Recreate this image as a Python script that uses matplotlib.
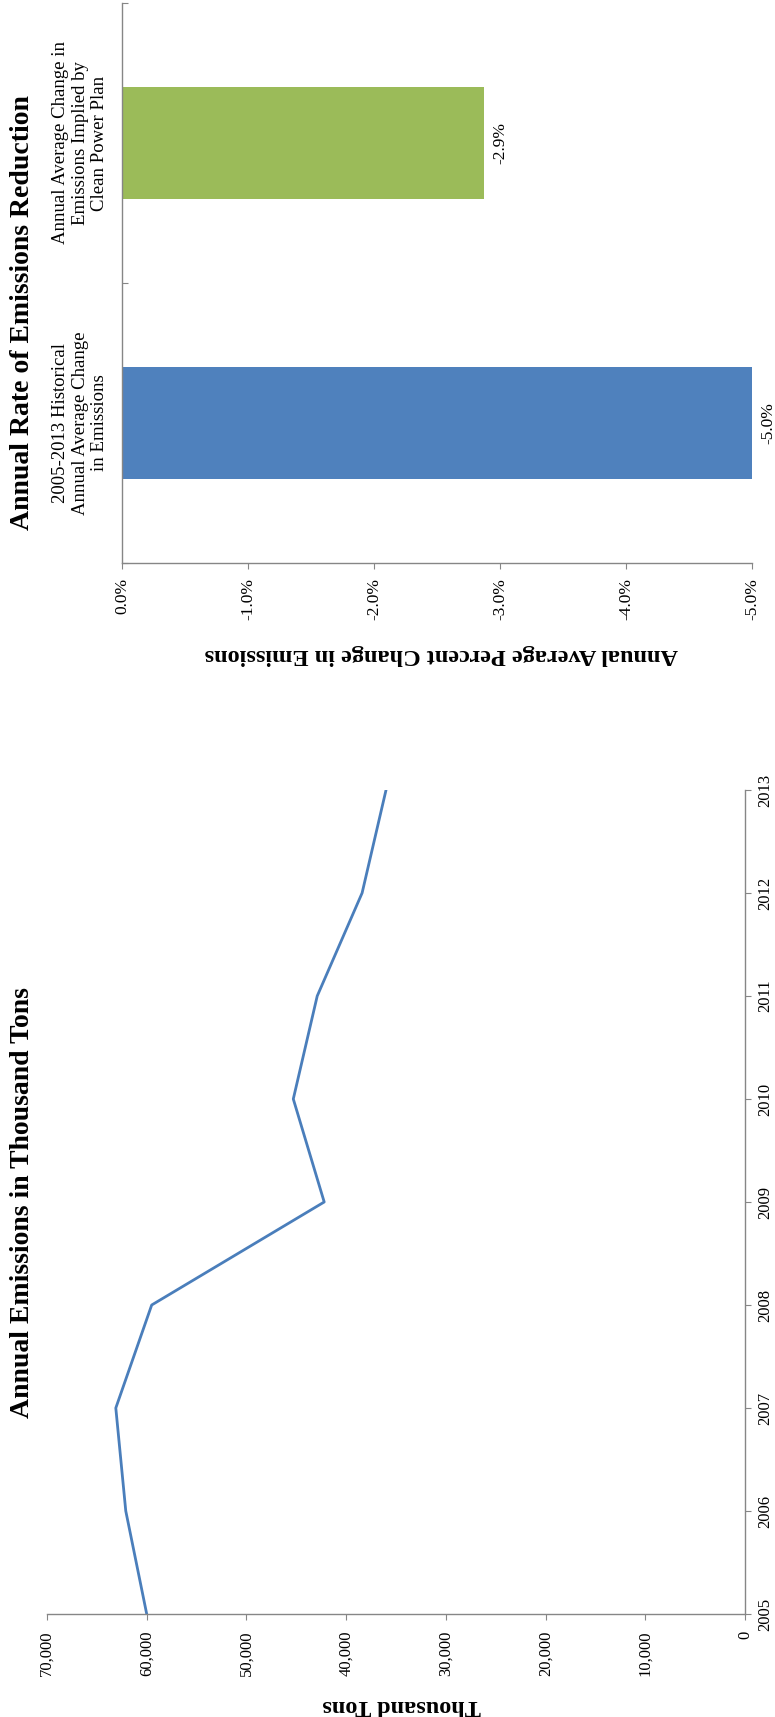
import matplotlib
matplotlib.use("Agg")
import matplotlib.pyplot as plt
from matplotlib.ticker import FixedLocator

plt.rcParams['font.family'] = ['Liberation Serif', 'DejaVu Serif']

# ---- data: line chart ----
years = [2005, 2006, 2007, 2008, 2009, 2010, 2011, 2012, 2013]
emissions = [60000, 62100, 63100, 59500, 42200, 45300, 42900, 38400, 36000]
emission_ticks = [0, 10000, 20000, 30000, 40000, 50000, 60000, 70000]

# ---- data: bar chart ----
rate_categories = ["2005-2013 Historical\nAnnual Average Change\nin Emissions",
                   "Annual Average Change in\nEmissions Implied by\nClean Power Plan"]
rate_values = [-5.0, -2.87]
rate_colors = ["#4F81BD", "#9BBB59"]
rate_ticks = [0.0, -1.0, -2.0, -3.0, -4.0, -5.0]

W, H = 775, 1717
fig = plt.figure(figsize=(W / 100, H / 100), dpi=100)
AXIS = "#868686"


def rect(l, t, r, b):
    return [l / W, 1 - b / H, (r - l) / W, (b - t) / H]


# ================= bar chart (top) =================
ax2 = fig.add_axes(rect(122, 3, 752, 563))
pos = list(range(len(rate_categories)))
ax2.barh(pos, rate_values, height=0.4, color=rate_colors)
ax2.set_xlim(0, -5)
ax2.set_ylim(-0.5, len(rate_categories) - 0.5)
for s in ("top", "right"):
    ax2.spines[s].set_visible(False)
for s in ("left", "bottom"):
    ax2.spines[s].set_color(AXIS)
    ax2.spines[s].set_linewidth(1.0)

ax2.set_xticks(rate_ticks)
ax2.set_xticklabels([f"{t:.1f}%" for t in rate_ticks])
ax2.tick_params(axis="x", direction="out", length=4, width=0.8, color=AXIS,
                pad=7, labelsize=12.5, labelrotation=90)
ax2.set_yticks(pos)
ax2.set_yticklabels(rate_categories, multialignment="center")
ax2.yaxis.set_minor_locator(FixedLocator([p - 0.5 for p in pos] + [pos[-1] + 0.5]))
ax2.tick_params(axis="y", which="major", length=0, pad=10, labelsize=13.5,
                labelrotation=90)
ax2.tick_params(axis="y", which="minor", direction="in", length=4, width=0.8,
                color=AXIS)
for lab in ax2.get_yticklabels():
    lab.set_va("center")
    lab.set_ha("right")

for p, v in zip(pos, rate_values):
    ax2.annotate(f"{v:.1f}%", xy=(v, p), xytext=(6, 0), textcoords="offset points",
                 rotation=90, ha="left", va="center", fontsize=12.5,
                 annotation_clip=False)

ax2.set_xlabel("Annual Average Percent Change in Emissions", fontsize=17.5,
               fontweight="bold", rotation=180, va="center", ha="center")
ax2.xaxis.set_label_coords((441 - 122) / 630, (563 - 654) / 560)

fig.text(23 / W, 1 - 313 / H, "Annual Rate of Emissions Reduction", rotation=90,
         ha="center", va="center", fontsize=20, fontweight="bold")

# ================= line chart (bottom) =================
ax1 = fig.add_axes(rect(47, 790, 745, 1614))
ax1.plot(emissions, years, color="#4A7EBB", lw=2.0)
ax1.set_xlim(70000, 0)
ax1.set_ylim(years[0], years[-1])
for s in ("top", "left"):
    ax1.spines[s].set_visible(False)
for s in ("right", "bottom"):
    ax1.spines[s].set_color(AXIS)
    ax1.spines[s].set_linewidth(1.0)

ax1.set_xticks(emission_ticks)
ax1.set_xticklabels([f"{t:,}" for t in emission_ticks])
ax1.tick_params(axis="x", direction="out", length=4, width=0.8, color=AXIS,
                pad=8, labelsize=12, labelrotation=90)
ax1.yaxis.tick_right()
ax1.set_yticks(years)
ax1.set_yticklabels([str(y) for y in years])
ax1.tick_params(axis="y", direction="out", length=4, width=0.8, color=AXIS,
                pad=5, labelsize=12, labelrotation=90)
for lab in ax1.get_yticklabels():
    lab.set_va("center")

ax1.set_xlabel("Thousand Tons", fontsize=17.5, fontweight="bold", rotation=180,
               va="center", ha="center")
ax1.xaxis.set_label_coords((402 - 47) / 698, (1614 - 1705) / 824)

fig.text(23 / W, 1 - 1203 / H, "Annual Emissions in Thousand Tons", rotation=90,
         ha="center", va="center", fontsize=20, fontweight="bold")

fig.savefig("out.png", dpi=100)
